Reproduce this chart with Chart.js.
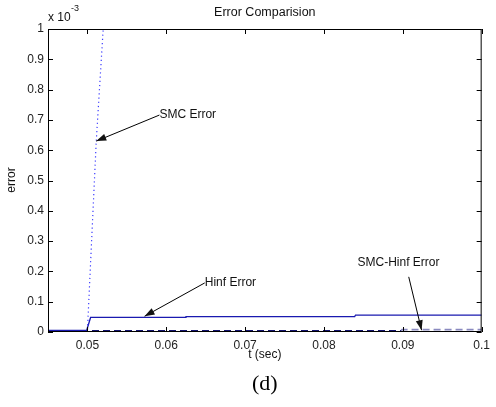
<!DOCTYPE html>
<html>
<head>
<meta charset="utf-8">
<script src="https://cdn.jsdelivr.net/npm/chart.js@4.4.1/dist/chart.umd.min.js"></script>
<style>
  html, body { margin: 0; padding: 0; background: #fff; }
  #wrap { width: 496px; height: 407px; position: relative; }
</style>
</head>
<body>
<div id="wrap"><canvas id="chart"></canvas></div>
<script>
// values in units of 1e-3 (axis multiplier shown as "x 10^-3")
const smcTime = [0.045, 0.0500, 0.0501, 0.05112, 0.0520, 0.0526];
const smcError = [0.0, 0.0, 0.06, 0.63, 1.0, 1.2];

const hinfTime = [0.045, 0.0499, 0.0504, 0.0624, 0.0625, 0.0839, 0.0840, 0.1];
const hinfError = [0.005, 0.005, 0.048, 0.048, 0.051, 0.051, 0.056, 0.056];

const smcHinfTime = [0.045, 0.0898, 0.0899, 0.1];
const smcHinfError = [0.004, 0.004, 0.008, 0.008];

const xTicks = [0.05, 0.06, 0.07, 0.08, 0.09, 0.1];
const yTicks = [0, 0.1, 0.2, 0.3, 0.4, 0.5, 0.6, 0.7, 0.8, 0.9, 1];

// arrow annotations (data coordinates)
const noteLabels = ['SMC Error', 'Hinf Error', 'SMC-Hinf Error'];
const noteTextX = [0.05913, 0.06488, 0.08425];
const noteTextY = [0.716, 0.162, 0.229];
const noteTailX = [0.05913, 0.06488, 0.09075];
const noteTailY = [0.716, 0.162, 0.182];
const noteHeadX = [0.05112, 0.05725, 0.09238];
const noteHeadY = [0.63, 0.052, 0.006];

const FONT = "'Liberation Sans', Arial, sans-serif";
const toXY = (xs, ys) => xs.map((x, i) => ({ x, y: ys[i] }));

const frame = {
    id: 'matlabFrame',
    afterDatasetsDraw(chart) {
        const ctx = chart.ctx;
        const a = chart.chartArea;
        const xs = chart.scales.x, ys = chart.scales.y;
        ctx.save();
        ctx.strokeStyle = '#000';
        ctx.lineWidth = 1;
        ctx.strokeRect(a.left + 0.5, a.top + 0.5, a.right - a.left - 1, a.bottom - a.top - 1);
        // inward ticks on all four sides
        ctx.beginPath();
        xTicks.forEach(v => {
            const px = Math.round(xs.getPixelForValue(v)) + 0.5;
            ctx.moveTo(px, a.bottom); ctx.lineTo(px, a.bottom - 5);
            ctx.moveTo(px, a.top); ctx.lineTo(px, a.top + 5);
        });
        yTicks.forEach(v => {
            const py = Math.round(ys.getPixelForValue(v)) + 0.5;
            ctx.moveTo(a.left, py); ctx.lineTo(a.left + 5, py);
            ctx.moveTo(a.right, py); ctx.lineTo(a.right - 5, py);
        });
        ctx.stroke();

        // annotations with arrows
        ctx.fillStyle = '#111';
        ctx.font = '12px ' + FONT;
        ctx.textBaseline = 'middle';
        ctx.textAlign = 'left';
        noteLabels.forEach((label, i) => {
            ctx.fillText(label, xs.getPixelForValue(noteTextX[i]), ys.getPixelForValue(noteTextY[i]));
            const x0 = xs.getPixelForValue(noteTailX[i]), y0 = ys.getPixelForValue(noteTailY[i]);
            const x1 = xs.getPixelForValue(noteHeadX[i]), y1 = ys.getPixelForValue(noteHeadY[i]);
            const ang = Math.atan2(y1 - y0, x1 - x0);
            ctx.beginPath();
            ctx.moveTo(x0, y0); ctx.lineTo(x1, y1);
            ctx.stroke();
            ctx.beginPath();
            ctx.moveTo(x1, y1);
            ctx.lineTo(x1 - 10 * Math.cos(ang) + 3.5 * Math.sin(ang), y1 - 10 * Math.sin(ang) - 3.5 * Math.cos(ang));
            ctx.lineTo(x1 - 10 * Math.cos(ang) - 3.5 * Math.sin(ang), y1 - 10 * Math.sin(ang) + 3.5 * Math.cos(ang));
            ctx.closePath();
            ctx.fill();
        });

        // titles and labels
        const cx = (a.left + a.right) / 2;
        ctx.textAlign = 'center';
        ctx.font = '12.5px ' + FONT;
        ctx.fillText('Error Comparision', cx, 13);
        ctx.font = '12px ' + FONT;
        ctx.fillText('t (sec)', cx, 355);
        ctx.textAlign = 'left';
        ctx.fillText('x 10', 48, 18);
        ctx.font = '9px ' + FONT;
        ctx.fillText('-3', 71, 9);
        ctx.save();
        ctx.translate(12, 180);
        ctx.rotate(-Math.PI / 2);
        ctx.textAlign = 'center';
        ctx.font = '12px ' + FONT;
        ctx.fillText('error', 0, 0);
        ctx.restore();
        ctx.fillStyle = '#000';
        ctx.textAlign = 'center';
        ctx.font = "22px 'Liberation Serif', 'Times New Roman', serif";
        ctx.fillText('(d)', cx, 384);
        ctx.restore();
    }
};

new Chart(document.getElementById('chart'), {
    type: 'line',
    data: {
        datasets: [
            {
                label: 'SMC Error',
                data: toXY(smcTime, smcError),
                borderColor: '#3a3aff',
                borderWidth: 1.2,
                borderDash: [1.2, 3],
                pointRadius: 0,
                tension: 0
            },
            {
                label: 'Hinf Error',
                data: toXY(hinfTime, hinfError),
                borderColor: '#1a1ab0',
                borderWidth: 1.3,
                pointRadius: 0,
                tension: 0
            },
            {
                label: 'SMC-Hinf Error',
                data: toXY(smcHinfTime, smcHinfError),
                borderColor: '#14146e',
                borderWidth: 1.8,
                borderDash: [7, 4],
                pointRadius: 0,
                tension: 0,
                segment: {
                    borderColor: c => c.p0.parsed.x >= 0.0898 ? '#8a8ac0' : undefined
                }
            }
        ]
    },
    options: {
        responsive: true,
        maintainAspectRatio: false,
        animation: false,
        layout: { padding: { left: 0, right: 7, top: 29, bottom: 53 } },
        plugins: {
            legend: { display: false },
            tooltip: { enabled: false },
            title: { display: false }
        },
        scales: {
            x: {
                type: 'linear',
                min: 0.045,
                max: 0.1,
                afterBuildTicks: s => { s.ticks = xTicks.map(v => ({ value: v })); },
                afterFit: s => { s.height = 22; },
                grid: { display: false, drawTicks: false },
                border: { display: false },
                ticks: {
                    color: '#222',
                    padding: 6,
                    maxRotation: 0,
                    font: { family: FONT, size: 12 },
                    callback: v => String(Math.round(v * 100) / 100)
                }
            },
            y: {
                min: 0,
                max: 1,
                afterBuildTicks: s => { s.ticks = yTicks.map(v => ({ value: v })); },
                afterFit: s => { s.width = 48; },
                grid: { display: false, drawTicks: false },
                border: { display: false },
                ticks: {
                    color: '#222',
                    padding: 4,
                    font: { family: FONT, size: 12 },
                    callback: v => String(Math.round(v * 10) / 10)
                }
            }
        }
    },
    plugins: [frame]
});
</script>
</body>
</html>
